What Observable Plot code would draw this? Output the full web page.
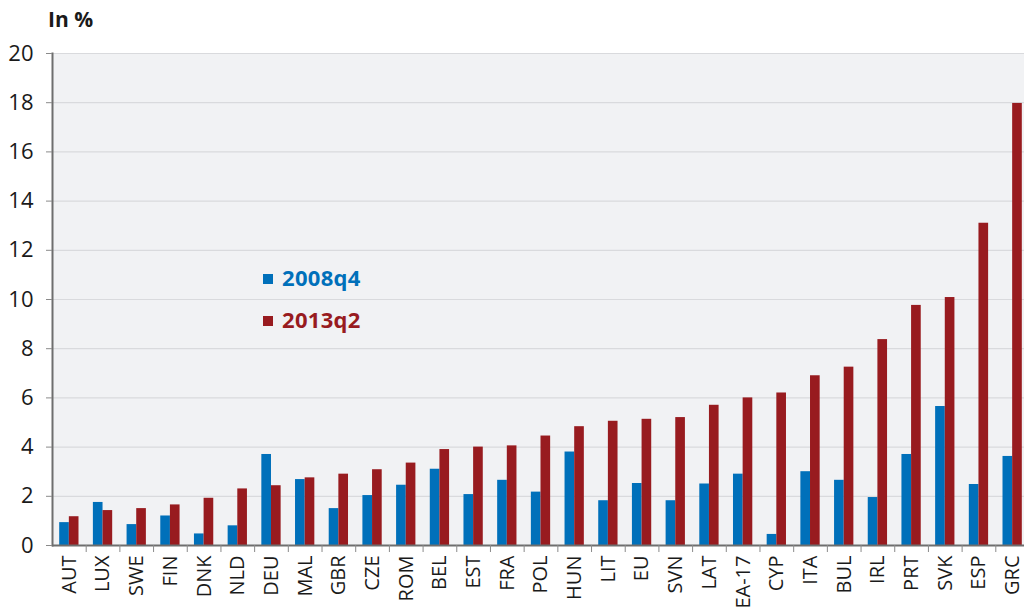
<!DOCTYPE html>
<html>
<head>
<meta charset="utf-8">
<script src="https://cdn.jsdelivr.net/npm/d3@7"></script>
<script src="https://cdn.jsdelivr.net/npm/@observablehq/plot@0.6"></script>
<style>
  html, body { margin: 0; padding: 0; background: #ffffff; overflow: hidden; }
  #wrap { position: relative; width: 1024px; height: 608px; overflow: hidden; font-family: "Open Sans", sans-serif; }
  #wrap svg { position: absolute; left: 0; top: 0; }
  #unit { position: absolute; left: 48px; top: 5px; font-size: 21px; font-weight: bold; color: #1a1a1a; }
  #legend { position: absolute; left: 263px; top: 262px; font-weight: bold; font-size: 22px; }
  .row { display: flex; align-items: center; height: 30px; margin-bottom: 12px; letter-spacing: 0.3px; }
  .sw { width: 10px; height: 10px; margin-right: 9px; margin-top: 3px; }
</style>
</head>
<body>
<div id="wrap">
  <div id="unit">In %</div>
  <div id="legend"></div>
</div>
<script>
const countries = ["AUT","LUX","SWE","FIN","DNK","NLD","DEU","MAL","GBR","CZE","ROM","BEL","EST","FRA","POL","HUN","LIT","EU","SVN","LAT","EA-17","CYP","ITA","BUL","IRL","PRT","SVK","ESP","GRC"];
const v2008q4 = [0.93,1.75,0.85,1.2,0.47,0.8,3.7,2.68,1.5,2.03,2.45,3.1,2.07,2.65,2.17,3.8,1.82,2.52,1.82,2.5,2.9,0.45,3.0,2.65,1.95,3.7,5.65,2.48,3.62];
const v2013q2 = [1.17,1.42,1.5,1.65,1.92,2.3,2.43,2.75,2.9,3.08,3.35,3.9,4.0,4.05,4.45,4.83,5.05,5.13,5.2,5.7,6.0,6.2,6.9,7.25,8.37,9.76,10.08,13.1,17.97];
const seriesNames = ["2008q4","2013q2"];
const seriesColors = ["#0070ba","#981b1f"];
const yTicks = [0,2,4,6,8,10,12,14,16,18,20];

const rows = [];
countries.forEach((c, i) => {
  rows.push({country: c, series: seriesNames[0], value: v2008q4[i]});
  rows.push({country: c, series: seriesNames[1], value: v2013q2[i]});
});

// the plot area runs slightly past the right edge of the picture
const width = 1024, height = 608;
const mL = 52, mR = -5, mT = 53, mB = 63;
const band = (width - mL - mR) / countries.length;
const barW = 9.65;
const inset = (band - barW) / 2;

const chart = Plot.plot({
  width, height,
  marginLeft: mL, marginRight: mR, marginTop: mT, marginBottom: mB,
  style: {fontFamily: "'Open Sans', sans-serif", fontSize: "20px", color: "#1a1a1a", background: "transparent", overflow: "hidden"},
  x: {domain: countries, padding: 0, round: false, axis: null},
  y: {domain: [0, 20], axis: null},
  color: {domain: seriesNames, range: seriesColors},
  marks: [
    Plot.frame({fill: "#f1f2f4", stroke: null}),
    Plot.gridY(yTicks.filter(d => d > 0), {stroke: "#d9dadd", strokeOpacity: 1, strokeWidth: 1.2}),
    Plot.barY(rows.filter(d => d.series === seriesNames[0]), {x: "country", y: "value", fill: "series", insetLeft: inset, insetRight: inset, dx: -barW / 2}),
    Plot.barY(rows.filter(d => d.series === seriesNames[1]), {x: "country", y: "value", fill: "series", insetLeft: inset, insetRight: inset, dx: barW / 2}),
    Plot.ruleY([0], {stroke: "#6e6e6e", strokeWidth: 2}),
    Plot.frame({anchor: "left", stroke: "#6e6e6e", strokeWidth: 2}),
    Plot.axisY({ticks: yTicks, tickSize: 6, tickPadding: 13, fontSize: 22, stroke: "#8a8a8a", fill: "#1a1a1a", label: null}),
    Plot.axisX({tickSize: 7, tickFormat: () => "", dx: band / 2, stroke: "#8a8a8a", label: null}),
    Plot.axisX({tickSize: 0, tickRotate: -90, tickPadding: 10, fontSize: 20, fill: "#1a1a1a", label: null})
  ]
});
document.getElementById("wrap").prepend(chart);

const legend = document.getElementById("legend");
seriesNames.forEach((s, i) => {
  const row = document.createElement("div");
  row.className = "row";
  row.style.color = seriesColors[i];
  const sw = document.createElement("span");
  sw.className = "sw";
  sw.style.background = seriesColors[i];
  const t = document.createElement("span");
  t.textContent = s;
  row.append(sw, t);
  legend.append(row);
});
</script>
</body>
</html>
